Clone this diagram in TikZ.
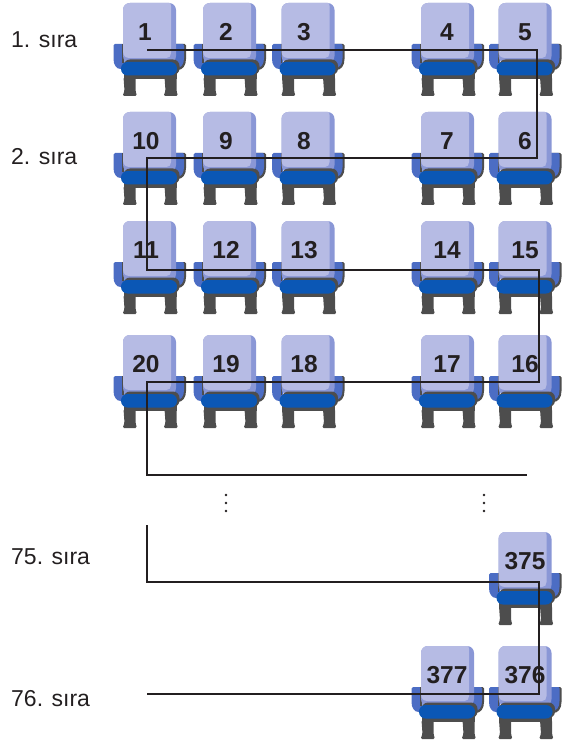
\documentclass[tikz,border=0pt]{standalone}
\usepackage{fontspec}
\setmainfont{Liberation Sans}
\definecolor{backlight}{HTML}{B6BBE4}
\definecolor{backside}{HTML}{8A97D6}
\definecolor{armblue}{HTML}{4C6DC4}
\definecolor{legdark}{HTML}{4D4D4D}
\definecolor{cushion}{HTML}{0B57B5}
\definecolor{inkdark}{HTML}{231F20}
\tikzset{
  num/.style={font=\fontsize{24.5}{25}\selectfont\bfseries,text=inkdark,inner sep=0pt},
  rowlab/.style={font=\fontsize{23}{24}\selectfont,text=inkdark,inner sep=0pt,anchor=base west},
  route/.style={draw=inkdark,line width=1.4pt,line join=miter},
  vdot/.style={fill=inkdark,circle,inner sep=0pt,minimum size=2.6pt},
  pics/seat/.style={code={
    % legs
    \fill[legdark,rounded corners=1.5pt] (-26,74) -- (-14,74) -- (-14,88) -- (-12.5,93) -- (-27,93) -- (-25,88) -- cycle;
    \fill[legdark,rounded corners=1.5pt] (15,74) -- (27,74) -- (27,88) -- (28.5,93) -- (14,93) -- (16,88) -- cycle;
    \fill[legdark] (-26,70) rectangle (27,76);
    % arms
    \fill[armblue] (-34.5,41) -- (-25,41) -- (-25,66) -- (-29,66) .. controls (-33,66) and (-36,62) .. (-36,56) -- (-36,42.5) .. controls (-36,41.5) .. (-34.5,41) -- cycle;
    \fill[legdark] (25,41) -- (35,41) .. controls (36,41) .. (36.5,42.5) -- (36.5,56) .. controls (36.5,63) and (33,67) .. (28,67) -- (25,67) -- cycle;
    \fill[armblue] (25,41) -- (33.5,41) .. controls (34.3,41) .. (34.5,42.5) -- (34.5,55) .. controls (34.5,61) and (32,65) .. (27,65) -- (25,65) -- cycle;
    % back
    \fill[legdark] (-27.5,41) rectangle (-26,60);
    \fill[backside,rounded corners=7pt] (-26.5,0) rectangle (26.5,60);
    \fill[backlight] (-19.5,0) -- (20,0) .. controls (21,0) .. (21.5,3) -- (21.5,50) .. controls (21.5,53) and (20,55) .. (17,55) -- (-19.5,55) .. controls (-24,55) and (-26.5,53) .. (-26.5,48) -- (-26.5,7) .. controls (-26.5,3) and (-24,0) .. (-19.5,0) -- cycle;
    % cushion
    \fill[legdark,rounded corners=6.5pt] (-26,56.5) rectangle (30,72);
    \fill[cushion,rounded corners=6.5pt] (-28.5,59) rectangle (27.5,72.5);
  }}
}
\begin{document}
\begin{tikzpicture}[x=1pt,y=-1pt]
\useasboundingbox (0,0) rectangle (566,743);
\foreach \sx/\sy/\tx/\n/\nm in {
  149.5/3/145/1/a, 229.5/3/226/2/b, 308/3/304/3/c, 447.5/3/447/4/d, 525/3/525/5/e,
  149.5/112/146/10/f, 229.5/112/226/9/g, 308/112/304/8/h, 447.5/112/447/7/i, 525/112/525/6/j,
  149.5/221/146/11/k, 229.5/221/226/12/l, 308/221/304/13/m, 447.5/221/447/14/n, 525/221/525/15/o,
  149.5/335/146/20/p, 229.5/335/226/19/q, 308/335/304/18/r, 447.5/335/447/17/s, 525/335/525/16/t,
  525/532/525/375/u, 447.5/646/447/377/v, 525/646/525/376/w}{
  \pic at (\sx,\sy) {seat};
  \node[num] (seat\nm) at (\tx,\sy+29) {\n};
}
\node[rowlab] (r1) at (11,48) {1. sıra};
\node[rowlab] (r2) at (11,165) {2. sıra};
\node[rowlab] (r75) at (11,564) {75. sıra};
\node[rowlab] (r76) at (11,706) {76. sıra};
\foreach \dx/\dn in {226/a,484/b}{
  \node[vdot] (dots\dn1) at (\dx,495) {};
  \node[vdot] (dots\dn2) at (\dx,503) {};
  \node[vdot] (dots\dn3) at (\dx,511) {};
}
\coordinate (p0) at (147,50);
\coordinate (p1) at (537,50);
\coordinate (p2) at (537,158);
\coordinate (p3) at (147,158);
\coordinate (p4) at (147,270);
\coordinate (p5) at (539,270);
\coordinate (p6) at (539,382);
\coordinate (p7) at (147,382);
\coordinate (p8) at (147,475);
\coordinate (p9) at (527,475);
\coordinate (q0) at (147,525);
\coordinate (q1) at (147,582);
\coordinate (q2) at (539,582);
\coordinate (q3) at (539,694);
\coordinate (q4) at (147,694);
\draw[route] (p0)--(p1)--(p2)--(p3)--(p4)--(p5)--(p6)--(p7)--(p8)--(p9);
\draw[route] (q0)--(q1)--(q2)--(q3)--(q4);
\end{tikzpicture}
\end{document}
